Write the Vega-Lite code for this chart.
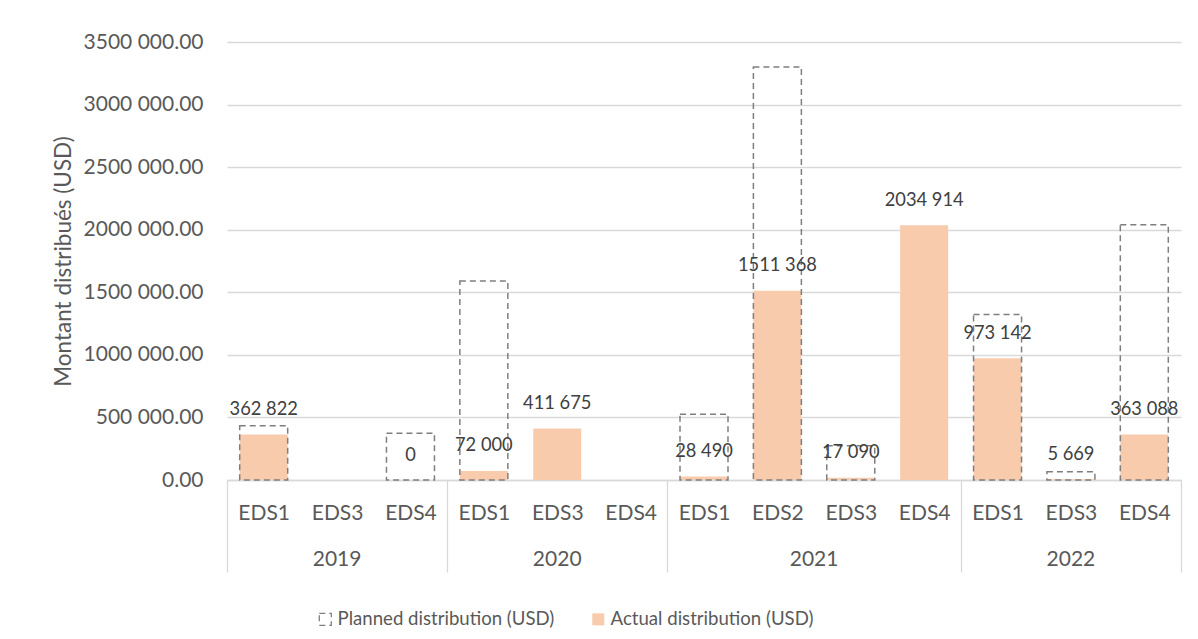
{
  "$schema": "https://vega.github.io/schema/vega-lite/v6.json",
  "width": 954,
  "height": 438,
  "autosize": {"type": "none"},
  "padding": {"left": 227, "top": 42, "right": 17, "bottom": 159},
  "background": "white",
  "config": {
    "font": "Lato",
    "locale": {"number": {"decimal": ".", "thousands": " ", "grouping": [3, 9], "currency": ["", ""]}},
    "view": {"stroke": null}
  },
  "data": {
    "values": [
      {"key": "2019|EDS1", "series": "Actual distribution (USD)", "value": 362822},
      {"key": "2019|EDS4", "series": "Actual distribution (USD)", "value": 0},
      {"key": "2020|EDS1", "series": "Actual distribution (USD)", "value": 72000},
      {"key": "2020|EDS3", "series": "Actual distribution (USD)", "value": 411675},
      {"key": "2021|EDS1", "series": "Actual distribution (USD)", "value": 28490},
      {"key": "2021|EDS2", "series": "Actual distribution (USD)", "value": 1511368},
      {"key": "2021|EDS3", "series": "Actual distribution (USD)", "value": 17090},
      {"key": "2021|EDS4", "series": "Actual distribution (USD)", "value": 2034914},
      {"key": "2022|EDS1", "series": "Actual distribution (USD)", "value": 973142},
      {"key": "2022|EDS3", "series": "Actual distribution (USD)", "value": 5669},
      {"key": "2022|EDS4", "series": "Actual distribution (USD)", "value": 363088},
      {"key": "2019|EDS1", "series": "Planned distribution (USD)", "value": 433000},
      {"key": "2019|EDS4", "series": "Planned distribution (USD)", "value": 373000},
      {"key": "2020|EDS1", "series": "Planned distribution (USD)", "value": 1590000},
      {"key": "2021|EDS1", "series": "Planned distribution (USD)", "value": 525000},
      {"key": "2021|EDS2", "series": "Planned distribution (USD)", "value": 3300000},
      {"key": "2021|EDS3", "series": "Planned distribution (USD)", "value": 274000},
      {"key": "2022|EDS1", "series": "Planned distribution (USD)", "value": 1323000},
      {"key": "2022|EDS3", "series": "Planned distribution (USD)", "value": 66000},
      {"key": "2022|EDS4", "series": "Planned distribution (USD)", "value": 2039000}
    ]
  },
  "layer": [
    {
      "mark": {"type": "bar", "width": {"band": 0.654}, "strokeWidth": 1.5},
      "encoding": {
        "x": {
          "field": "key", "type": "nominal", "sort": null,
          "scale": {
            "domain": ["2019|EDS1", "2019|EDS3", "2019|EDS4", "2020|EDS1", "2020|EDS3", "2020|EDS4", "2021|EDS1", "2021|EDS2", "2021|EDS3", "2021|EDS4", "2022|EDS1", "2022|EDS3", "2022|EDS4"],
            "paddingInner": 0, "paddingOuter": 0
          },
          "axis": {
            "orient": "bottom",
            "title": null,
            "labelExpr": "split(datum.value, '|')[1]",
            "labelAngle": 0,
            "labelOverlap": false,
            "labelFontSize": 21,
            "labelColor": "#595959",
            "labelPadding": -70,
            "domainColor": "#D9D9D9",
            "domainWidth": 1.3,
            "ticks": true,
            "tickBand": "extent",
            "tickSize": 92,
            "tickWidth": 1.3,
            "tickColor": {"condition": {"test": "!isValid(datum.value) || indexof(datum.value, 'EDS4') >= 0", "value": "#D9D9D9"}, "value": "transparent"},
            "grid": false
          }
        },
        "y": {
          "field": "value", "type": "quantitative", "stack": null,
          "scale": {"domain": [0, 3500000], "nice": false},
          "axis": {
            "values": [0, 500000, 1000000, 1500000, 2000000, 2500000, 3000000, 3500000],
            "format": ",.2f",
            "labelFontSize": 21,
            "labelColor": "#595959",
            "labelPadding": 24,
            "ticks": false,
            "domain": false,
            "grid": true,
            "gridColor": "#D9D9D9",
            "gridWidth": 1.3,
            "title": "Montant distribués (USD)",
            "titleFontSize": 22.5,
            "titleFontWeight": "normal",
            "titleColor": "#595959",
            "titlePadding": 8
          }
        },
        "fill": {
          "field": "series", "type": "nominal",
          "scale": {"domain": ["Planned distribution (USD)", "Actual distribution (USD)"], "range": ["transparent", "#F8CBAD"]},
          "legend": {"title": null, "orient": "none", "legendX": 89, "legendY": 568, "direction": "horizontal", "symbolType": "square", "symbolSize": 144, "symbolStrokeWidth": 1.3, "labelFontSize": 18.6, "labelColor": "#595959", "labelOffset": 3, "labelLimit": 0, "columnPadding": 34}
        },
        "stroke": {
          "field": "series", "type": "nominal",
          "scale": {"domain": ["Planned distribution (USD)", "Actual distribution (USD)"], "range": ["#7F7F7F", "transparent"]},
          "legend": {"title": null, "orient": "none", "legendX": 89, "legendY": 568, "direction": "horizontal", "symbolType": "square", "symbolSize": 144, "symbolStrokeWidth": 1.3, "labelFontSize": 18.6, "labelColor": "#595959", "labelOffset": 3, "labelLimit": 0, "columnPadding": 34}
        },
        "strokeDash": {
          "field": "series", "type": "nominal",
          "scale": {"domain": ["Planned distribution (USD)", "Actual distribution (USD)"], "range": [[6, 4], [1, 0]]},
          "legend": {"title": null, "orient": "none", "legendX": 89, "legendY": 568, "direction": "horizontal", "symbolType": "square", "symbolSize": 144, "symbolStrokeWidth": 1.3, "labelFontSize": 18.6, "labelColor": "#595959", "labelOffset": 3, "labelLimit": 0, "columnPadding": 34}
        }
      }
    },
    {
      "transform": [{"filter": "datum.series == 'Actual distribution (USD)'"}],
      "mark": {"type": "text", "fontSize": 18.3, "color": "#404040", "baseline": "middle", "dy": -24.5},
      "encoding": {
        "x": {
          "field": "key", "type": "nominal", "sort": null,
          "axis": {
            "orient": "bottom",
            "title": null,
            "values": ["2019|EDS3", "2020|EDS3", "2021|EDS2", "2022|EDS3"],
            "labelExpr": "split(datum.value, '|')[0]",
            "labelAngle": 0,
            "labelOverlap": false,
            "labelFontSize": 21,
            "labelColor": "#595959",
            "labelPadding": 68,
            "labelOffset": {"condition": {"test": "datum.value == '2021|EDS2'", "value": 36.7}, "value": 0},
            "ticks": false,
            "domain": false,
            "grid": false
          }
        },
        "y": {"field": "value", "type": "quantitative", "stack": null},
        "text": {"field": "value", "type": "quantitative", "format": ",d"}
      }
    }
  ],
  "resolve": {"axis": {"x": "independent"}}
}
